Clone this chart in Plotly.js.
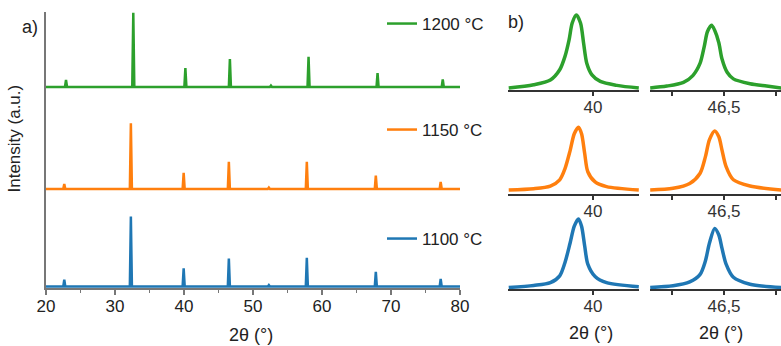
<!DOCTYPE html>
<html><head><meta charset="utf-8">
<script src="https://cdn.plot.ly/plotly-3.0.1.min.js"></script>
<style>html,body{margin:0;padding:0;background:#fff}#chart{width:781px;height:346px}</style>
</head><body><div id="chart"></div>
<script>
// ---------- data: panel a (full XRD patterns, intensity in a.u.) ----------
const seriesLabels = ['1100 °C', '1150 °C', '1200 °C'];

const x1100 = [20, 22.5, 22.65, 22.8, 32.15, 32.3, 32.45, 39.8, 39.95, 40.1, 46.35, 46.5, 46.65, 52.15, 52.3, 52.45, 57.65, 57.8, 57.95, 67.65, 67.8, 67.95, 77.05, 77.2, 77.35, 80];
const y1100 = [0, 0, 10, 0, 0, 100, 0, 0, 26, 0, 0, 40, 0, 0, 2, 0, 0, 41, 0, 0, 21, 0, 0, 11, 0, 0];

const x1150 = [20, 22.5, 22.65, 22.8, 32.15, 32.3, 32.45, 39.8, 39.95, 40.1, 46.35, 46.5, 46.65, 52.15, 52.3, 52.45, 57.65, 57.8, 57.95, 67.65, 67.8, 67.95, 77.05, 77.2, 77.35, 80];
const y1150 = [0, 0, 7, 0, 0, 94, 0, 0, 23, 0, 0, 39, 0, 0, 2, 0, 0, 39, 0, 0, 19, 0, 0, 10, 0, 0];

const x1200 = [20, 22.75, 22.9, 23.05, 32.5, 32.65, 32.8, 40.05, 40.2, 40.35, 46.5, 46.65, 46.8, 52.45, 52.6, 52.75, 57.9, 58.05, 58.2, 67.9, 68.05, 68.2, 77.35, 77.5, 77.65, 80];
const y1200 = [0, 0, 10, 0, 0, 106, 0, 0, 27, 0, 0, 40, 0, 0, 2, 0, 0, 43, 0, 0, 20, 0, 0, 11, 0, 0];

// ---------- data: panel b (zoomed peaks) ----------
const x1200p40 = [39.19, 39.43, 39.59, 39.68, 39.73, 39.77, 39.80, 39.84, 39.88, 39.91, 39.94, 39.99, 40.07, 40.23, 40.44];
const y1200p40 = [0, 4.5, 11, 25, 43, 66, 89, 100, 89, 61, 34, 18, 9, 3.6, 0];
const x1200p46 = [45.79, 45.95, 46.11, 46.20, 46.27, 46.31, 46.34, 46.38, 46.41, 46.45, 46.48, 46.53, 46.59, 46.75, 46.91, 47.05];
const y1200p46 = [0, 2.6, 7.7, 17, 34, 57, 77, 86, 79, 62, 40, 21.5, 12.5, 5.8, 2.6, 0];

const x1150p40 = [39.19, 39.43, 39.59, 39.68, 39.73, 39.78, 39.82, 39.86, 39.89, 39.92, 39.95, 40.02, 40.13, 40.44];
const y1150p40 = [0, 1.7, 5.4, 14, 29, 54, 77, 86, 77, 50, 25, 11, 4.6, 0];
const x1150p46 = [45.79, 46.01, 46.17, 46.27, 46.32, 46.36, 46.41, 46.45, 46.48, 46.52, 46.59, 46.75, 47.05];
const y1150p46 = [0, 2.3, 8.9, 23, 45, 69, 81, 73, 55, 32, 14, 5.5, 0];

const x1100p40 = [39.19, 39.43, 39.59, 39.68, 39.73, 39.78, 39.82, 39.86, 39.89, 39.92, 39.95, 40.02, 40.13, 40.44];
const y1100p40 = [0, 2.8, 6.6, 16, 34, 61, 84, 94, 84, 57, 32, 15, 6.6, 1];
const x1100p46 = [45.79, 46.01, 46.17, 46.27, 46.32, 46.36, 46.41, 46.45, 46.48, 46.52, 46.59, 46.75, 47.05];
const y1100p46 = [0, 2.3, 7.6, 18, 36, 61, 81, 72, 54, 32, 14, 4.5, 0];

// tick labels
const ticksA = [20, 30, 40, 50, 60, 70, 80];
const ticksB40 = [40];
const ticksB40text = ['40'];
const ticksB46 = [46, 46.5, 47];
const ticksB46text = ['', '46,5', ''];

// ---------- styling ----------
const BLUE = '#1f77b4', ORANGE = '#ff7f0e', GREEN = '#2ca02c';
const FONT = 'Liberation Sans, Arial, Helvetica, sans-serif';
const W = 781, H = 346;
const fx = px => px / W;
const fy = px => 1 - px / H;

const traces = [
  {x: x1100, y: y1100, xaxis: 'x', yaxis: 'y', mode: 'lines', name: seriesLabels[0], legend: 'legend3', line: {color: BLUE, width: 2.5}},
  {x: x1150, y: y1150, xaxis: 'x', yaxis: 'y2', mode: 'lines', name: seriesLabels[1], legend: 'legend2', line: {color: ORANGE, width: 2.5}},
  {x: x1200, y: y1200, xaxis: 'x', yaxis: 'y3', mode: 'lines', name: seriesLabels[2], legend: 'legend', line: {color: GREEN, width: 2.5}},

  {x: x1200p40, y: y1200p40, xaxis: 'x2', yaxis: 'y4', mode: 'lines', showlegend: false, line: {color: GREEN, width: 3.5, shape: 'spline', smoothing: 0.8}},
  {x: x1200p46, y: y1200p46, xaxis: 'x3', yaxis: 'y5', mode: 'lines', showlegend: false, line: {color: GREEN, width: 3.5, shape: 'spline', smoothing: 0.8}},
  {x: x1150p40, y: y1150p40, xaxis: 'x4', yaxis: 'y6', mode: 'lines', showlegend: false, line: {color: ORANGE, width: 3.5, shape: 'spline', smoothing: 0.8}},
  {x: x1150p46, y: y1150p46, xaxis: 'x5', yaxis: 'y7', mode: 'lines', showlegend: false, line: {color: ORANGE, width: 3.5, shape: 'spline', smoothing: 0.8}},
  {x: x1100p40, y: y1100p40, xaxis: 'x6', yaxis: 'y8', mode: 'lines', showlegend: false, line: {color: BLUE, width: 3.5, shape: 'spline', smoothing: 0.8}},
  {x: x1100p46, y: y1100p46, xaxis: 'x7', yaxis: 'y9', mode: 'lines', showlegend: false, line: {color: BLUE, width: 3.5, shape: 'spline', smoothing: 0.8}}
];

const yA = (domain, range) => ({domain, range, anchor: 'x', showline: true, linecolor: '#777', linewidth: 2,
  ticks: '', showticklabels: false, showgrid: false, zeroline: false, fixedrange: true});
const yB = (domain, range, anchor) => ({domain, range, anchor, visible: false, showgrid: false, zeroline: false, fixedrange: true});
const xB = (domain, range, anchor, tickvals, ticktext) => ({domain, range, anchor, showline: true, linecolor: '#333', linewidth: 1.5,
  ticks: 'outside', ticklen: 4, tickwidth: 1.3, tickcolor: '#333', tickmode: 'array', tickvals, ticktext, ticklabelstandoff: -3,
  tickfont: {family: FONT, size: 17, color: '#333'}, showgrid: false, zeroline: false, fixedrange: true});

const col1 = [fx(508), fx(639)], col2 = [fx(650), 1];
const r40 = [39.183, 40.442], r46 = [45.788, 47.048];
const row1 = [fy(90), fy(12)], row2 = [fy(194), fy(120)], row3 = [fy(289), fy(213)];

const legendBase = {xanchor: 'left', yanchor: 'middle', bgcolor: 'rgba(0,0,0,0)', borderwidth: 0,
  font: {family: FONT, size: 17, color: '#222'}, itemwidth: 30};

const layout = {
  width: W, height: H, margin: {l: 0, r: 0, t: 0, b: 0},
  paper_bgcolor: '#fff', plot_bgcolor: 'rgba(0,0,0,0)',
  font: {family: FONT, size: 17, color: '#222'},
  showlegend: true,
  legend: Object.assign({x: fx(382), y: fy(24)}, legendBase),
  legend2: Object.assign({x: fx(382), y: fy(130)}, legendBase),
  legend3: Object.assign({x: fx(382), y: fy(239)}, legendBase),
  xaxis: {domain: [fx(46), fx(460)], range: [20, 80], anchor: 'y', showline: true, linecolor: '#777', linewidth: 2,
    ticks: 'outside', ticklen: 5, tickwidth: 1.5, tickcolor: '#777', tickmode: 'array', tickvals: ticksA, ticklabelstandoff: -3,
    minor: {dtick: 5, tick0: 20, ticks: 'outside', ticklen: 3, tickwidth: 1.5, tickcolor: '#777', showgrid: false},
    tickfont: {family: FONT, size: 17, color: '#222'}, showgrid: false, zeroline: false, fixedrange: true},
  yaxis: yA([fy(288), fy(191)], [-2, 136.6]),
  yaxis2: yA([fy(191), fy(90.5)], [-2.9, 140.7]),
  yaxis3: yA([fy(90.5), fy(12)], [-5, 107.1]),

  xaxis2: xB(col1, r40, 'y4', ticksB40, ticksB40text),
  xaxis3: xB(col2, r46, 'y5', ticksB46, ticksB46text),
  xaxis4: xB(col1, r40, 'y6', ticksB40, ticksB40text),
  xaxis5: xB(col2, r46, 'y7', ticksB46, ticksB46text),
  xaxis6: xB(col1, r40, 'y8', ticksB40, ticksB40text),
  xaxis7: xB(col2, r46, 'y9', ticksB46, ticksB46text),
  yaxis4: yB(row1, [-2.74, 104.1], 'x2'),
  yaxis5: yB(row1, [-2.74, 104.1], 'x3'),
  yaxis6: yB(row2, [-5.48, 95.9], 'x4'),
  yaxis7: yB(row2, [-5.48, 95.9], 'x5'),
  yaxis8: yB(row3, [-2.05, 102.1], 'x6'),
  yaxis9: yB(row3, [-2.05, 102.1], 'x7'),

  annotations: [
    {text: 'a)', x: fx(30), y: fy(27), xref: 'paper', yref: 'paper', showarrow: false, xanchor: 'center', yanchor: 'middle', font: {size: 18, color: '#222'}},
    {text: 'b)', x: fx(516), y: fy(22), xref: 'paper', yref: 'paper', showarrow: false, xanchor: 'center', yanchor: 'middle', font: {size: 18, color: '#222'}},
    {text: 'Intensity (a.u.)', x: fx(14), y: fy(138.5), xref: 'paper', yref: 'paper', showarrow: false, textangle: -90, xanchor: 'center', yanchor: 'middle', font: {size: 17, color: '#222'}},
    {text: '2θ (°)', x: fx(251), y: fy(335), xref: 'paper', yref: 'paper', showarrow: false, xanchor: 'center', yanchor: 'middle', font: {size: 18, color: '#222'}},
    {text: '2θ (°)', x: fx(590.5), y: fy(332.5), xref: 'paper', yref: 'paper', showarrow: false, xanchor: 'center', yanchor: 'middle', font: {size: 18, color: '#222'}},
    {text: '2θ (°)', x: fx(721), y: fy(332.5), xref: 'paper', yref: 'paper', showarrow: false, xanchor: 'center', yanchor: 'middle', font: {size: 18, color: '#222'}}
  ]
};

Plotly.newPlot('chart', traces, layout, {staticPlot: true, displayModeBar: false});
</script></body></html>
